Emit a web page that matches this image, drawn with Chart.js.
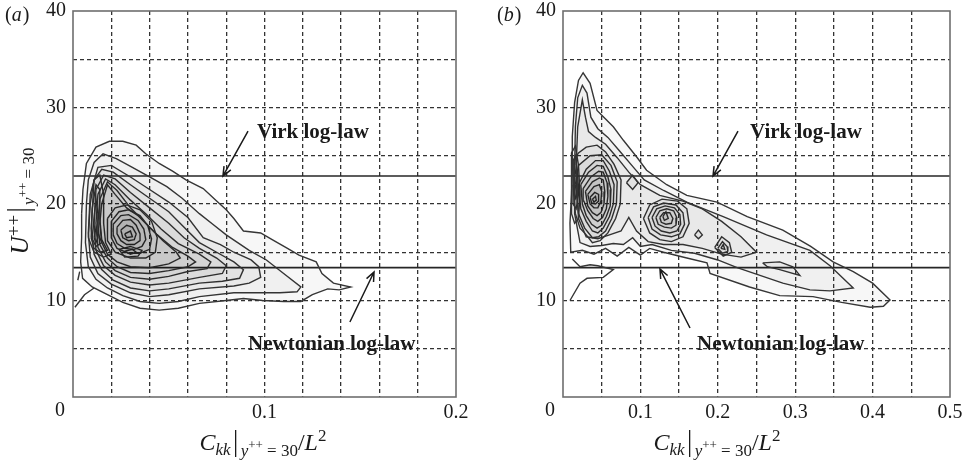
<!DOCTYPE html>
<html>
<head>
<meta charset="utf-8">
<script src="https://cdn.jsdelivr.net/npm/chart.js@4.4.0/dist/chart.umd.min.js"></script>
<style>
  html, body { margin: 0; padding: 0; background: #fff; }
  #wrap { position: relative; width: 967px; height: 462px; }
  #chartA { position: absolute; left: 0; top: 0; }
  #chartB { position: absolute; left: 480px; top: 0; }
</style>
</head>
<body>
<div id="wrap">
  <canvas id="chartA" width="480" height="462"></canvas>
  <canvas id="chartB" width="487" height="462"></canvas>
</div>
<script>
const SERIF = "'Liberation Serif', 'DejaVu Serif', serif";

// axes
const xMaxA = 0.2;
const xMaxB = 0.5;
const yMax = 40;

// log-law levels
const virkLogLaw = 22.9;
const newtonianLogLaw = 13.4;

// panel (a) contour lines, [Ckk, U++]
const contoursA = [
  [[0.0045,19],[0.0052,21.5],[0.007,24.2],[0.012,25.9],[0.019,26.5],[0.026,26.5],[0.033,26.1],[0.038,25.2],[0.045,24.2],[0.052,23.4],[0.059,22.5],[0.068,21.6],[0.075,20.3],[0.08,19.4],[0.084,18.5],[0.089,17.2],[0.098,17.0],[0.104,16.3],[0.112,15.4],[0.118,14.7],[0.127,14.0],[0.13,12.8],[0.136,11.8],[0.145,11.4],[0.139,11.1],[0.133,11.2],[0.125,10.6],[0.119,9.9],[0.11,9.9],[0.099,10.0],[0.089,10.2],[0.08,10.0],[0.066,9.7],[0.055,9.2],[0.045,9.0],[0.035,9.2],[0.026,9.8],[0.018,10.6],[0.010,11.4],[0.005,12.3],[0.004,14],[0.0045,16.5],[0.0045,19]],
  [[0.007,20],[0.008,22.5],[0.011,24.3],[0.0157,25.2],[0.0226,24.7],[0.031,23.8],[0.040,22.8],[0.049,21.8],[0.057,20.6],[0.066,19.0],[0.073,17.9],[0.08,16.8],[0.086,16.0],[0.092,15.2],[0.101,14.2],[0.11,12.8],[0.119,11.4],[0.117,10.9],[0.108,10.8],[0.098,10.8],[0.084,10.8],[0.066,10.4],[0.055,9.9],[0.045,9.7],[0.035,9.9],[0.026,10.5],[0.018,11.3],[0.012,12.2],[0.008,13.5],[0.0065,16],[0.007,20]],
  [[0.009,21],[0.013,23.8],[0.02,24.0],[0.03,22.8],[0.04,21.5],[0.05,20.2],[0.06,18.6],[0.068,16.5],[0.077,15.8],[0.084,15.0],[0.093,14.2],[0.097,13.5],[0.098,12.4],[0.092,11.8],[0.084,11.5],[0.066,11.2],[0.05,10.6],[0.04,10.4],[0.03,10.8],[0.02,11.7],[0.013,12.8],[0.009,14.5],[0.008,17],[0.009,21]],
  [[0.011,22.5],[0.015,23.6],[0.021,23.3],[0.03,22.0],[0.04,20.6],[0.05,19.2],[0.058,17.6],[0.066,16.0],[0.075,15.0],[0.084,14.0],[0.089,13.2],[0.087,12.3],[0.078,12.0],[0.066,11.8],[0.05,11.2],[0.04,11.0],[0.03,11.3],[0.021,12.1],[0.015,13.2],[0.011,14.8],[0.0095,17.5],[0.011,22.5]],
  [[0.012,21.5],[0.016,23.0],[0.022,22.6],[0.03,21.2],[0.04,19.6],[0.05,18.0],[0.058,16.5],[0.066,15.4],[0.075,14.4],[0.08,13.6],[0.078,12.8],[0.066,12.4],[0.05,11.8],[0.04,11.6],[0.03,11.9],[0.022,12.6],[0.016,13.6],[0.012,15.2],[0.011,18],[0.012,21.5]],
  [[0.013,21],[0.017,22.6],[0.022,22.0],[0.03,20.4],[0.038,19.0],[0.046,17.4],[0.055,15.9],[0.066,14.8],[0.072,14.0],[0.070,13.3],[0.06,13.0],[0.05,12.5],[0.04,12.2],[0.03,12.4],[0.022,13.1],[0.017,14.0],[0.013,15.5],[0.012,18],[0.013,21]],
  [[0.014,20.5],[0.018,22.3],[0.023,21.4],[0.03,19.6],[0.037,18.2],[0.044,16.8],[0.052,15.5],[0.06,14.6],[0.064,14.0],[0.060,13.5],[0.05,13.1],[0.04,12.8],[0.03,12.9],[0.023,13.5],[0.018,14.4],[0.014,15.8],[0.013,18],[0.014,20.5]],
  [[0.015,20],[0.018,22],[0.022,21],[0.028,19.6],[0.034,18.8],[0.04,17.6],[0.047,16.2],[0.054,15.0],[0.056,14.4],[0.05,13.8],[0.04,13.4],[0.03,13.5],[0.023,14.0],[0.018,14.8],[0.015,16],[0.014,18],[0.015,20]],
  [[0.018,18.5],[0.022,19.6],[0.028,19.9],[0.035,19.4],[0.041,18.2],[0.044,16.5],[0.043,15.0],[0.038,14.4],[0.03,14.4],[0.022,15.0],[0.018,16.2],[0.018,18.5]],
  [[0.020,18.2],[0.024,19.2],[0.029,19.4],[0.035,18.8],[0.039,17.8],[0.041,16.4],[0.040,15.3],[0.035,14.9],[0.029,14.9],[0.023,15.4],[0.020,16.5],[0.020,18.2]],
  [[0.021,17.9],[0.025,18.8],[0.029,18.9],[0.034,18.3],[0.037,17.4],[0.038,16.3],[0.036,15.6],[0.032,15.3],[0.027,15.4],[0.023,15.9],[0.021,16.8],[0.021,17.9]],
  [[0.023,17.6],[0.026,18.3],[0.030,18.4],[0.033,17.8],[0.035,16.9],[0.035,16.2],[0.032,15.8],[0.028,15.8],[0.025,16.2],[0.023,16.9],[0.023,17.6]],
  [[0.025,17.3],[0.028,17.8],[0.031,17.6],[0.033,16.9],[0.032,16.3],[0.029,16.2],[0.026,16.5],[0.025,17.3]],
  [[0.027,16.9],[0.030,17.2],[0.031,16.6],[0.028,16.5],[0.027,16.9]],
  [[0.008,16.5],[0.009,20],[0.011,22.5],[0.014,23],[0.016,21],[0.016,18],[0.017,16],[0.02,14.8],[0.016,14.5],[0.011,15],[0.008,16.5]],
  [[0.0095,16.5],[0.010,19.5],[0.012,22],[0.014,21.5],[0.014,18.5],[0.015,16.3],[0.018,15.2],[0.014,15.0],[0.011,15.4],[0.0095,16.5]],
  [[0.010,16.4],[0.011,18.5],[0.012,20.5],[0.013,19],[0.013,17],[0.015,16],[0.012,15.6],[0.010,16.4]],
  [[0.011,16.5],[0.012,17.5],[0.013,16.5],[0.012,16],[0.011,16.5]],
  [[0.024,15.3],[0.03,15.6],[0.036,15.2],[0.034,14.6],[0.027,14.5],[0.024,15.3]],
  [[0.027,15.1],[0.031,15.3],[0.033,15.0],[0.03,14.8],[0.027,15.1]]
];
const openLinesA = [
  [[0.001,9.3],[0.006,10.6],[0.011,11.3]],
  [[0.0025,12.1],[0.0035,13.0]]
];

// panel (b) contour lines
const contoursB = [
  [[0.012,23.5],[0.012,27],[0.015,30.5],[0.02,32.8],[0.026,33.6],[0.035,32.5],[0.044,29.7],[0.055,28.8],[0.065,28.0],[0.078,26.6],[0.095,24.9],[0.108,23.5],[0.134,22.0],[0.16,20.9],[0.199,20.2],[0.238,18.7],[0.284,17.3],[0.32,15.6],[0.349,14.0],[0.375,13.0],[0.40,11.8],[0.4225,10.05],[0.414,9.4],[0.397,9.3],[0.36,9.8],[0.323,10.4],[0.28,10.5],[0.241,11.4],[0.19,12.8],[0.186,13.9],[0.16,14.4],[0.13,15.0],[0.112,15.4],[0.1,14.7],[0.085,15.5],[0.07,14.6],[0.055,15.4],[0.04,14.8],[0.025,15.2],[0.01,15.0],[0.009,18],[0.011,21],[0.012,23.5]],
  [[0.015,23.5],[0.016,28],[0.019,31],[0.025,32.3],[0.031,31.5],[0.036,29],[0.045,27.8],[0.058,26.9],[0.072,25.6],[0.09,23.9],[0.105,22.5],[0.13,21.4],[0.16,20.2],[0.207,18.7],[0.263,16.8],[0.319,15.2],[0.345,13.6],[0.375,11.3],[0.345,11.0],[0.319,11.1],[0.284,11.8],[0.225,13.4],[0.2,14.2],[0.17,14.9],[0.14,15.2],[0.115,15.8],[0.1,15.6],[0.09,16.5],[0.078,15.8],[0.065,15.9],[0.05,15.7],[0.035,15.6],[0.022,16.0],[0.015,19],[0.015,23.5]],
  [[0.017,24],[0.019,28],[0.025,30.8],[0.029,29],[0.033,27.5],[0.042,26.9],[0.055,26.2],[0.07,24.8],[0.085,23.3],[0.1,22.0],[0.125,20.9],[0.155,20.3],[0.18,19.5],[0.205,18.2],[0.23,16.6],[0.25,15.0],[0.23,14.5],[0.205,14.8],[0.18,15.4],[0.155,15.8],[0.13,15.8],[0.11,16.1],[0.095,17.2],[0.085,18.6],[0.075,17.2],[0.06,16.8],[0.045,16.4],[0.03,16.6],[0.02,18.5],[0.017,24]],
  [[0.013,22],[0.014,24.5],[0.02,25.3],[0.03,25.9],[0.044,26.1],[0.055,25.4],[0.066,24.1],[0.075,22.5],[0.074,20],[0.068,18.5],[0.058,17],[0.048,16.2],[0.038,16.0],[0.03,16.8],[0.022,17.5],[0.016,19],[0.013,22]],
  [[0.016,22],[0.02,24],[0.035,25.0],[0.05,25.1],[0.062,24.0],[0.07,22.3],[0.069,20],[0.063,18.5],[0.055,17.2],[0.046,16.6],[0.038,16.5],[0.028,17.5],[0.02,19],[0.016,22]],
  [[0.02,22],[0.03,23.6],[0.042,24.5],[0.052,24.5],[0.06,23.4],[0.066,22],[0.065,20],[0.06,18.7],[0.052,17.5],[0.045,17.0],[0.038,17.2],[0.03,18.2],[0.023,19.5],[0.02,22]],
  [[0.023,22],[0.033,23.3],[0.044,24.0],[0.052,23.9],[0.058,22.8],[0.062,21.5],[0.061,19.8],[0.056,18.7],[0.05,17.8],[0.044,17.5],[0.037,17.9],[0.03,18.8],[0.025,20],[0.023,22]],
  [[0.026,21.6],[0.036,22.8],[0.046,23.4],[0.052,23.3],[0.057,22.2],[0.058,20.8],[0.056,19.5],[0.051,18.6],[0.045,18.2],[0.039,18.5],[0.032,19.3],[0.027,20.3],[0.026,21.6]],
  [[0.029,21.3],[0.038,22.3],[0.047,22.7],[0.052,22.5],[0.054,21.3],[0.053,20.0],[0.049,19.1],[0.044,18.8],[0.038,19.1],[0.032,19.8],[0.029,21.3]],
  [[0.032,21],[0.04,21.8],[0.047,22.0],[0.05,21.3],[0.049,20.3],[0.045,19.6],[0.04,19.6],[0.035,20.0],[0.032,21]],
  [[0.035,20.7],[0.041,21.2],[0.046,21.0],[0.046,20.3],[0.042,20.0],[0.037,20.1],[0.035,20.7]],
  [[0.038,20.5],[0.042,20.8],[0.043,20.4],[0.04,20.2],[0.038,20.5]],
  [[0.011,19],[0.011,25.3],[0.016,26],[0.02,24],[0.022,21],[0.02,18.5],[0.015,18],[0.011,19]],
  [[0.013,20],[0.013,24.5],[0.016,25],[0.019,23],[0.02,21],[0.017,19.5],[0.013,20]],
  [[0.014,21],[0.015,23.8],[0.017,23],[0.018,21.5],[0.016,20.6],[0.014,21]],
  [[0.082,22.2],[0.09,23.0],[0.097,22.2],[0.09,21.5],[0.082,22.2]],
  [[0.104,18.5],[0.112,19.9],[0.128,20.5],[0.148,20.3],[0.16,19.5],[0.163,18.0],[0.155,16.6],[0.14,16.1],[0.125,16.3],[0.112,17.0],[0.104,18.5]],
  [[0.11,18.6],[0.117,19.7],[0.13,20.1],[0.146,19.9],[0.155,19.1],[0.157,17.9],[0.151,16.9],[0.14,16.6],[0.126,16.8],[0.115,17.4],[0.11,18.6]],
  [[0.115,18.6],[0.121,19.5],[0.132,19.8],[0.144,19.6],[0.151,18.9],[0.152,17.9],[0.147,17.2],[0.138,17.0],[0.127,17.2],[0.119,17.7],[0.115,18.6]],
  [[0.12,18.6],[0.125,19.3],[0.134,19.5],[0.143,19.3],[0.147,18.6],[0.146,17.8],[0.14,17.5],[0.131,17.6],[0.123,17.9],[0.12,18.6]],
  [[0.125,18.6],[0.13,19.1],[0.138,19.1],[0.142,18.5],[0.14,18.0],[0.133,17.9],[0.127,18.1],[0.125,18.6]],
  [[0.129,18.7],[0.133,19.2],[0.136,18.5],[0.131,18.3],[0.129,18.7]],
  [[0.196,15.5],[0.205,16.6],[0.215,16.0],[0.218,15.0],[0.207,14.6],[0.196,15.5]],
  [[0.2,15.4],[0.206,16.1],[0.212,15.6],[0.213,15.1],[0.206,14.9],[0.2,15.4]],
  [[0.204,15.4],[0.207,15.8],[0.209,15.3],[0.204,15.4]],
  [[0.17,16.8],[0.175,17.3],[0.18,16.8],[0.175,16.4],[0.17,16.8]],
  [[0.258,13.9],[0.28,14.0],[0.297,13.5],[0.306,12.6],[0.28,13.2],[0.264,13.5],[0.258,13.9]]
];
const openLinesB = [
  [[0.009,10.0],[0.022,11.8],[0.031,12.3],[0.052,12.4],[0.065,13.2],[0.045,13.6],[0.035,13.7],[0.022,13.5],[0.012,14.3]]
];

// annotations, in data units
const notesA = [
  { text: 'Virk log-law', x: 0.0961, y: 26.84 },
  { text: 'Newtonian log-law', x: 0.0914, y: 4.87 }
];
const arrowsA = [
  [0.0914, 27.56, 0.0783, 22.9],
  [0.1446, 7.77, 0.1572, 12.95]
];
const notesB = [
  { text: 'Virk log-law', x: 0.2416, y: 26.84 },
  { text: 'Newtonian log-law', x: 0.1731, y: 4.87 }
];
const arrowsB = [
  [0.2261, 27.56, 0.1938, 22.9],
  [0.1641, 7.15, 0.1253, 13.26]
];

function richText(ctx, parts, x, y) {
  let w = 0;
  parts.forEach((p) => {
    if (p.bar) w += p.w;
    else { ctx.font = p.f; w += ctx.measureText(p.t).width; }
  });
  let cx = x - w / 2;
  parts.forEach((p) => {
    if (p.bar) {
      ctx.beginPath();
      ctx.lineWidth = 1.3;
      ctx.moveTo(cx + p.w / 2, y + p.top);
      ctx.lineTo(cx + p.w / 2, y + p.bot);
      ctx.stroke();
      cx += p.w;
    } else {
      ctx.font = p.f;
      ctx.fillText(p.t, cx, y + p.dy);
      cx += ctx.measureText(p.t).width;
    }
  });
}

const xTitleParts = [
  { t: 'C', f: `italic 24px ${SERIF}`, dy: 0 },
  { t: 'kk', f: `italic 17px ${SERIF}`, dy: 5 },
  { bar: true, w: 10, top: -20, bot: 7 },
  { t: 'y', f: `italic 17px ${SERIF}`, dy: 6 },
  { t: '++', f: `13px ${SERIF}`, dy: -1 },
  { t: ' = 30', f: `17px ${SERIF}`, dy: 6 },
  { t: '/', f: `24px ${SERIF}`, dy: 0 },
  { t: 'L', f: `italic 24px ${SERIF}`, dy: 0 },
  { t: '2', f: `17px ${SERIF}`, dy: -9 }
];
const yTitleParts = [
  { t: 'U', f: `italic 25px ${SERIF}`, dy: 0 },
  { t: '++', f: `19px ${SERIF}`, dy: -8 },
  { bar: true, w: 10, top: -21, bot: 7 },
  { t: 'y', f: `italic 17px ${SERIF}`, dy: 6 },
  { t: '++', f: `13px ${SERIF}`, dy: -1 },
  { t: ' = 30', f: `17px ${SERIF}`, dy: 6 }
];

const decor = {
  id: 'decor',
  afterDraw(chart, args, o) {
    const ctx = chart.ctx;
    const ca = chart.chartArea;
    const xs = chart.scales.x;
    const ys = chart.scales.y;
    ctx.save();

    // frame
    ctx.strokeStyle = '#6e6e6e';
    ctx.lineWidth = 1.6;
    ctx.strokeRect(ca.left, ca.top, ca.right - ca.left, ca.bottom - ca.top);

    // notes and arrows
    ctx.fillStyle = '#1a1a1a';
    ctx.strokeStyle = '#1a1a1a';
    ctx.textAlign = 'left';
    ctx.textBaseline = 'alphabetic';
    ctx.font = `bold 21px ${SERIF}`;
    o.notes.forEach((n) => {
      ctx.fillText(n.text, xs.getPixelForValue(n.x), ys.getPixelForValue(n.y));
    });
    o.arrows.forEach((a) => {
      const x1 = xs.getPixelForValue(a[0]), y1 = ys.getPixelForValue(a[1]);
      const x2 = xs.getPixelForValue(a[2]), y2 = ys.getPixelForValue(a[3]);
      const ang = Math.atan2(y2 - y1, x2 - x1);
      ctx.lineWidth = 1.5;
      ctx.beginPath();
      ctx.moveTo(x1, y1);
      ctx.lineTo(x2, y2);
      ctx.moveTo(x2 - 10 * Math.cos(ang - 0.4), y2 - 10 * Math.sin(ang - 0.4));
      ctx.lineTo(x2, y2);
      ctx.lineTo(x2 - 10 * Math.cos(ang + 0.4), y2 - 10 * Math.sin(ang + 0.4));
      ctx.stroke();
    });

    // origin label
    ctx.font = `20px ${SERIF}`;
    ctx.textAlign = 'center';
    ctx.textBaseline = 'middle';
    ctx.fillText('0', ca.left - 13, 411);

    // panel label
    ctx.textAlign = 'left';
    ctx.textBaseline = 'alphabetic';
    let px = o.labelX;
    ctx.font = `20px ${SERIF}`;
    ctx.fillText('(', px, 21);
    px += ctx.measureText('(').width;
    ctx.font = `italic 20px ${SERIF}`;
    ctx.fillText(o.letter, px, 21);
    px += ctx.measureText(o.letter).width + 1;
    ctx.font = `20px ${SERIF}`;
    ctx.fillText(')', px, 21);

    // axis titles
    richText(ctx, xTitleParts, ca.left + o.titleDx, 450);
    if (o.yTitle) {
      ctx.translate(28, 201);
      ctx.rotate(-Math.PI / 2);
      richText(ctx, yTitleParts, 0, 0);
    }
    ctx.restore();
  }
};

function buildDatasets(contours, openLines, xMax) {
  const sets = [];
  contours.forEach((poly) => {
    sets.push({
      data: poly.map(([x, y]) => ({ x, y })),
      showLine: true,
      pointRadius: 0,
      borderColor: '#363636',
      borderWidth: 1.4,
      backgroundColor: 'rgba(0,0,0,0.03)',
      fill: 'shape',
      tension: 0
    });
  });
  openLines.forEach((line) => {
    sets.push({
      data: line.map(([x, y]) => ({ x, y })),
      showLine: true,
      pointRadius: 0,
      borderColor: '#363636',
      borderWidth: 1.4,
      fill: false
    });
  });
  [virkLogLaw, newtonianLogLaw].forEach((level) => {
    sets.push({
      data: [{ x: 0, y: level }, { x: xMax, y: level }],
      showLine: true,
      pointRadius: 0,
      borderColor: '#262626',
      borderWidth: 1.7,
      fill: false
    });
  });
  return sets;
}

function gridColor(max) {
  return (c) => {
    const v = c.tick ? c.tick.value : null;
    if (v === null || Math.abs(v) < 1e-9 || Math.abs(v - max) < 1e-9) return 'rgba(0,0,0,0)';
    return '#333333';
  };
}

function makeChart(id, opts) {
  return new Chart(document.getElementById(id), {
    type: 'scatter',
    data: { datasets: buildDatasets(opts.contours, opts.openLines, opts.xMax) },
    options: {
      responsive: false,
      animation: false,
      devicePixelRatio: 1,
      layout: { padding: { left: 0, right: opts.rightPad, top: 11, bottom: 0 } },
      plugins: {
        legend: { display: false },
        tooltip: { enabled: false },
        decor: {
          notes: opts.notes,
          arrows: opts.arrows,
          letter: opts.letter,
          labelX: opts.labelX,
          titleDx: opts.titleDx,
          yTitle: opts.yTitle
        }
      },
      scales: {
        x: {
          type: 'linear',
          min: 0,
          max: opts.xMax,
          afterFit: (s) => { s.height = 65; s.paddingLeft = 0; s.paddingRight = 0; },
          ticks: {
            stepSize: opts.xStep,
            autoSkip: false,
            maxRotation: 0,
            padding: 4,
            color: '#1a1a1a',
            font: { family: SERIF, size: 20 },
            callback: (v) => {
              const r = Math.round(v * 100) / 100;
              if (r > 0 && Math.abs(r * 10 - Math.round(r * 10)) < 1e-6) return String(r);
              return '';
            }
          },
          grid: { color: gridColor(opts.xMax), lineWidth: 1.3, drawTicks: false },
          border: { display: false, dash: [4, 3] }
        },
        y: {
          type: 'linear',
          min: 0,
          max: yMax,
          afterFit: (s) => { s.width = opts.yWidth; s.paddingTop = 0; s.paddingBottom = 0; },
          ticks: {
            stepSize: 5,
            autoSkip: false,
            padding: 7,
            color: '#1a1a1a',
            font: { family: SERIF, size: 20 },
            callback: (v) => (v > 0 && v % 10 === 0 ? String(v) : '')
          },
          grid: { color: gridColor(yMax), lineWidth: 1.3, drawTicks: false },
          border: { display: false, dash: [4, 3] }
        }
      }
    },
    plugins: [decor]
  });
}

makeChart('chartA', {
  contours: contoursA, openLines: openLinesA, xMax: xMaxA, xStep: 0.02,
  rightPad: 24, yWidth: 73, notes: notesA, arrows: arrowsA,
  letter: 'a', labelX: 5, titleDx: 190, yTitle: true
});
makeChart('chartB', {
  contours: contoursB, openLines: openLinesB, xMax: xMaxB, xStep: 0.05,
  rightPad: 17, yWidth: 83, notes: notesB, arrows: arrowsB,
  letter: 'b', labelX: 17, titleDx: 154, yTitle: false
});
</script>
</body>
</html>
